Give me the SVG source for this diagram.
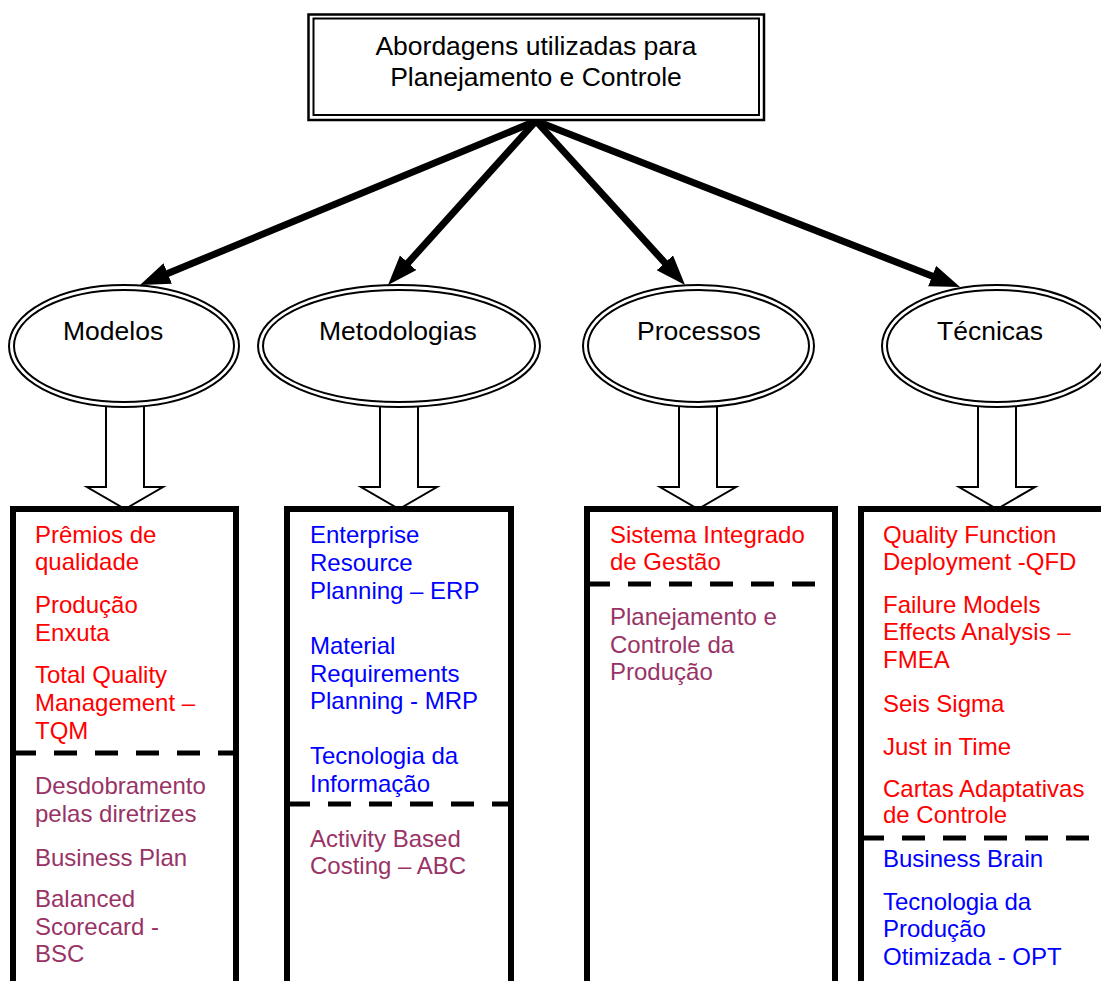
<svg xmlns="http://www.w3.org/2000/svg" width="1101" height="981" viewBox="0 0 1101 981">
<style>
  text { font-family: "Liberation Sans", Arial, sans-serif; }
  .title { font-size: 26.5px; fill: #000; }
  .lbl { font-size: 26.5px; fill: #000; }
  .item { font-size: 24px; }
  .red { fill: #FF0000; }
  .blue { fill: #0000FF; }
  .plum { fill: #993366; }
  .ell { fill: none; stroke: #000; stroke-width: 2; }
  .ellfill { fill: #fff; stroke: none; }
  .box { fill: #fff; stroke: #000; stroke-width: 6; }
  .dash { stroke: #000; stroke-width: 5; stroke-dasharray: 23 18; fill: none; }
  .hollow { fill: #fff; stroke: #000; stroke-width: 2; stroke-linejoin: miter; }
  .thick { stroke: #000; stroke-width: 7; fill: none; marker-end: url(#head); }
</style>
<defs>
  <marker id="head" markerUnits="userSpaceOnUse" markerWidth="32" markerHeight="24" refX="6" refY="11" orient="auto">
    <path d="M0,0 L30,11 L0,22 z" fill="#000"/>
  </marker>
</defs>
<rect x="0" y="0" width="1101" height="981" fill="#fff"/>

<g id="connectors">
  <line class="thick" x1="536" y1="121" x2="162.2" y2="275.8"/>
  <line class="thick" x1="536" y1="121" x2="404.1" y2="267.2"/>
  <line class="thick" x1="536" y1="121" x2="668.9" y2="267.2"/>
  <line class="thick" x1="536" y1="121" x2="937.7" y2="278.3"/>
  <polygon class="hollow" points="106,402 144,402 144,487 163,487 125,509 87,487 106,487"/>
  <polygon class="hollow" points="380,402 418,402 418,487 437,487 399,509 361,487 380,487"/>
  <polygon class="hollow" points="679,402 717,402 717,487 736,487 698,509 660,487 679,487"/>
  <polygon class="hollow" points="978,402 1016,402 1016,487 1035,487 997,509 959,487 978,487"/>
</g>

<g id="root">
  <rect x="308.5" y="14.5" width="455.5" height="105.5" fill="#fff" stroke="#000" stroke-width="2.5"/>
  <rect x="313.5" y="18.5" width="445.5" height="96.5" fill="none" stroke="#000" stroke-width="2"/>
  <text class="title" text-anchor="middle"><tspan x="536" y="55">Abordagens utilizadas para</tspan><tspan x="536" y="86">Planejamento e Controle</tspan></text>
</g>

<g id="modelos">
  <ellipse class="ellfill" cx="124" cy="346" rx="115" ry="61"/>
  <ellipse class="ell" cx="124" cy="346" rx="115" ry="61"/>
  <ellipse class="ell" cx="124" cy="346" rx="110" ry="56"/>
  <text class="lbl" x="63" y="340">Modelos</text>
</g>

<g id="metodologias">
  <ellipse class="ellfill" cx="399" cy="346" rx="141" ry="61"/>
  <ellipse class="ell" cx="399" cy="346" rx="141" ry="61"/>
  <ellipse class="ell" cx="399" cy="346" rx="136" ry="56"/>
  <text class="lbl" x="319" y="340">Metodologias</text>
</g>

<g id="processos">
  <ellipse class="ellfill" cx="698.5" cy="346" rx="115.5" ry="61"/>
  <ellipse class="ell" cx="698.5" cy="346" rx="115.5" ry="61"/>
  <ellipse class="ell" cx="698.5" cy="346" rx="110.5" ry="56"/>
  <text class="lbl" x="637" y="340">Processos</text>
</g>

<g id="tecnicas">
  <ellipse class="ellfill" cx="997" cy="346" rx="115" ry="61"/>
  <ellipse class="ell" cx="997" cy="346" rx="115" ry="61"/>
  <ellipse class="ell" cx="997" cy="346" rx="110" ry="56"/>
  <text class="lbl" x="937" y="340">Técnicas</text>
</g>

<g id="box-modelos">
  <rect class="box" x="13" y="509" width="223" height="490"/>
  <line class="dash" x1="16" y1="753" x2="233" y2="753" stroke-dashoffset="3"/>
  <text class="item red"><tspan x="35" y="543">Prêmios de</tspan><tspan x="35" y="570">qualidade</tspan><tspan x="35" y="613">Produção</tspan><tspan x="35" y="641">Enxuta</tspan><tspan x="35" y="683">Total Quality</tspan><tspan x="35" y="711">Management –</tspan><tspan x="35" y="739">TQM</tspan></text>
  <text class="item plum"><tspan x="35" y="794">Desdobramento</tspan><tspan x="35" y="822">pelas diretrizes</tspan><tspan x="35" y="866">Business Plan</tspan><tspan x="35" y="907">Balanced</tspan><tspan x="35" y="935">Scorecard -</tspan><tspan x="35" y="962">BSC</tspan></text>
</g>

<g id="box-metodologias">
  <rect class="box" x="287" y="509" width="224" height="490"/>
  <line class="dash" x1="290" y1="804" x2="508" y2="804" stroke-dashoffset="3"/>
  <text class="item blue"><tspan x="310" y="543">Enterprise</tspan><tspan x="310" y="571">Resource</tspan><tspan x="310" y="599">Planning – ERP</tspan><tspan x="310" y="654">Material</tspan><tspan x="310" y="682">Requirements</tspan><tspan x="310" y="709">Planning - MRP</tspan><tspan x="310" y="764">Tecnologia da</tspan><tspan x="310" y="792">Informação</tspan></text>
  <text class="item plum"><tspan x="310" y="847">Activity Based</tspan><tspan x="310" y="874">Costing – ABC</tspan></text>
</g>

<g id="box-processos">
  <rect class="box" x="587" y="509" width="248" height="490"/>
  <line class="dash" x1="590" y1="584" x2="832" y2="584" stroke-dashoffset="3"/>
  <text class="item red"><tspan x="610" y="543">Sistema Integrado</tspan><tspan x="610" y="570">de Gestão</tspan></text>
  <text class="item plum"><tspan x="610" y="625">Planejamento e</tspan><tspan x="610" y="653">Controle da</tspan><tspan x="610" y="680">Produção</tspan></text>
</g>

<g id="box-tecnicas">
  <rect class="box" x="861" y="509" width="260" height="490"/>
  <line class="dash" x1="864" y1="838" x2="1101" y2="838" stroke-dashoffset="3"/>
  <text class="item red"><tspan x="883" y="543">Quality Function</tspan><tspan x="883" y="570">Deployment -QFD</tspan><tspan x="883" y="613">Failure Models</tspan><tspan x="883" y="640">Effects Analysis –</tspan><tspan x="883" y="668">FMEA</tspan><tspan x="883" y="712">Seis Sigma</tspan><tspan x="883" y="755">Just in Time</tspan><tspan x="883" y="797">Cartas Adaptativas</tspan><tspan x="883" y="823">de Controle</tspan></text>
  <text class="item blue"><tspan x="883" y="867">Business Brain</tspan><tspan x="883" y="910">Tecnologia da</tspan><tspan x="883" y="937">Produção</tspan><tspan x="883" y="965">Otimizada - OPT</tspan></text>
</g>
</svg>
